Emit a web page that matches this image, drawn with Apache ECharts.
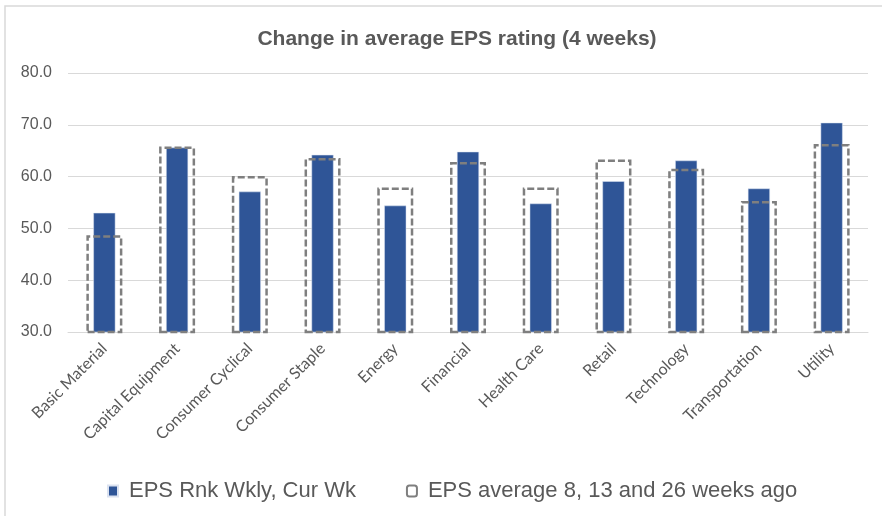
<!DOCTYPE html>
<html>
<head>
<meta charset="utf-8">
<script src="https://cdn.jsdelivr.net/npm/echarts@6/dist/echarts.min.js"></script>
<style>
  html, body { margin: 0; padding: 0; background: #fff; }
  #chart { width: 882px; height: 516px; }
</style>
</head>
<body>
<div id="chart"></div>
<script>
// sectors and EPS ratings
var sectors = ['Basic Material', 'Capital Equipment', 'Consumer Cyclical', 'Consumer Staple',
  'Energy', 'Financial', 'Health Care', 'Retail', 'Technology', 'Transportation', 'Utility'];
var curWeek = [53.0, 65.6, 57.1, 64.2, 54.4, 64.8, 54.8, 59.1, 63.1, 57.7, 70.4];
var avgAgo = [48.7, 65.8, 60.1, 63.6, 57.9, 62.8, 57.9, 63.3, 61.5, 55.3, 66.3];
var yTicks = { min: 30, max: 80, step: 10 };

var grey = '#595959';
var myChart = echarts.init(document.getElementById('chart'));

var option = {
  animation: false,
  title: {
    text: 'Change in average EPS rating (4 weeks)',
    left: 452,
    top: 24,
    textAlign: 'center',
    textStyle: { fontFamily: 'Liberation Sans', fontSize: 21, fontWeight: 'bold', color: grey }
  },
  grid: { left: 68, right: 14, top: 73, bottom: 184 },
  legend: {
    left: 102,
    top: 475,
    itemWidth: 10,
    itemHeight: 11,
    itemGap: 50,
    textStyle: { fontFamily: 'Liberation Sans', fontSize: 22, color: grey, padding: [0, 0, 0, 6] },
    data: [
      { name: 'EPS Rnk Wkly, Cur Wk', icon: 'rect' },
      { name: 'EPS average 8, 13 and 26 weeks ago' }
    ]
  },
  xAxis: [
    {
      type: 'category',
      data: sectors,
      axisTick: { show: false },
      axisLine: { lineStyle: { color: '#d9d9d9' } },
      axisLabel: {
        rotate: 45,
        interval: 0,
        margin: 14,
        fontFamily: 'Lato',
        fontSize: 16,
        color: grey
      }
    },
    {
      type: 'category',
      data: sectors,
      show: false
    }
  ],
  yAxis: {
    type: 'value',
    min: yTicks.min,
    max: yTicks.max,
    interval: yTicks.step,
    axisLine: { show: false },
    axisTick: { show: false },
    splitLine: { lineStyle: { color: '#d9d9d9', width: 1 } },
    axisLabel: {
      margin: 16,
      fontFamily: 'Liberation Sans',
      fontSize: 16,
      color: grey,
      formatter: function (v) { return v.toFixed(1); }
    }
  },
  series: [
    {
      name: 'EPS Rnk Wkly, Cur Wk',
      type: 'bar',
      xAxisIndex: 0,
      barWidth: 22,
      data: curWeek,
      itemStyle: { color: '#2f5597', borderColor: '#dbe2f0', borderWidth: 0.5 }
    },
    {
      name: 'EPS average 8, 13 and 26 weeks ago',
      type: 'bar',
      xAxisIndex: 1,
      barWidth: 36,
      z: 3,
      data: avgAgo,
      itemStyle: {
        color: 'rgba(255,255,255,0)',
        borderColor: '#7f7f7f',
        borderWidth: 2.5,
        borderType: [7, 3]
      }
    }
  ],
  graphic: [
    {
      type: 'rect',
      shape: { x: 5, y: 6, width: 900, height: 540 },
      style: { fill: 'none', stroke: '#d9d9d9', lineWidth: 1.5 },
      silent: true
    }
  ]
};

if (option && typeof option === 'object') {
  myChart.setOption(option, true);
}
</script>
</body>
</html>
